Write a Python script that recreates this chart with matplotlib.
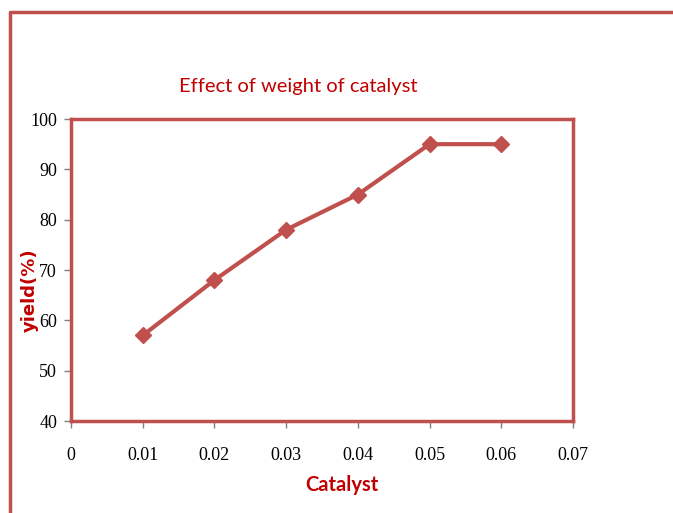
import matplotlib
matplotlib.use("Agg")
import matplotlib.pyplot as plt
from matplotlib.lines import Line2D

catalyst = [0.01, 0.02, 0.03, 0.04, 0.05, 0.06]
yield_pct = [57, 68, 78, 85, 95, 95]
xticks = [0, 0.01, 0.02, 0.03, 0.04, 0.05, 0.06, 0.07]
xtick_labels = ["0", "0.01", "0.02", "0.03", "0.04", "0.05", "0.06", "0.07"]
yticks = [40, 50, 60, 70, 80, 90, 100]

frame_col = "#C0504D"
text_red = "#C00000"

fig = plt.figure(figsize=(6.73, 5.13), dpi=100)
ax = fig.add_axes([0.1055, 0.1793, 0.7459, 0.5887])

ax.plot(catalyst, yield_pct, color=frame_col, lw=3, marker="D", ms=8.5,
        markeredgecolor=frame_col, markerfacecolor=frame_col)

ax.set_xlim(0, 0.07)
ax.set_ylim(40, 100)
ax.set_xticks(xticks)
ax.set_xticklabels(xtick_labels)
ax.set_yticks(yticks)
for s in ax.spines.values():
    s.set_color(frame_col)
    s.set_linewidth(2.5)
ax.tick_params(axis="both", direction="out", color="#808080", length=5, width=1,
               labelsize=13)
ax.tick_params(axis="x", pad=14)
ax.tick_params(axis="y", pad=5)
for lab in ax.get_xticklabels() + ax.get_yticklabels():
    lab.set_family("Liberation Serif")

fig.text(0.443, 0.832, "Effect of weight of catalyst", color=text_red,
         fontsize=14.5, ha="center", va="center", family="Lato")
fig.text(0.508, 0.055, "Catalyst", color=text_red, fontsize=14.5, fontweight="bold",
         ha="center", va="center", family="Lato")
fig.text(0.045, 0.435, "yield(%)", color=text_red, fontsize=13, fontweight="bold",
         ha="center", va="center", rotation=90, family="DejaVu Sans")

# outer chart border
fig.add_artist(Line2D([10 / 673, 10 / 673, 1.0], [0.0, 1 - 12 / 513, 1 - 12 / 513],
                      transform=fig.transFigure, color=frame_col, lw=2.5))

fig.savefig("out.png", dpi=100, facecolor="white")
